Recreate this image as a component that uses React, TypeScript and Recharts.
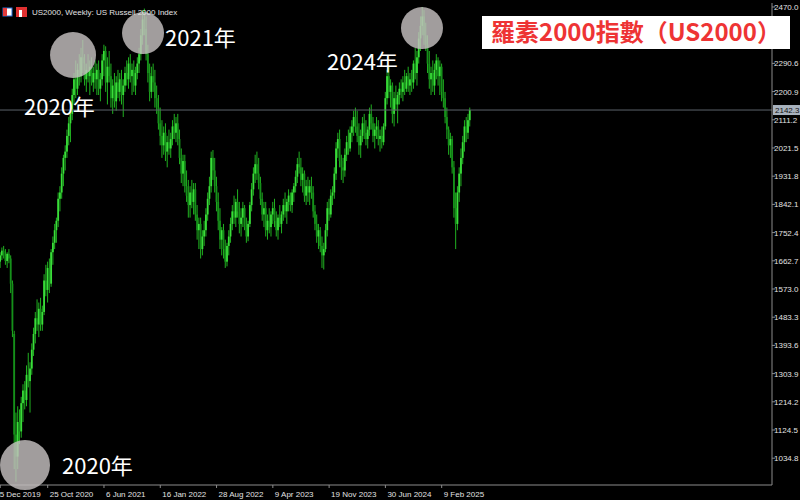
import React from 'react';
import { ComposedChart, Bar, XAxis, YAxis, ReferenceLine, ReferenceDot } from 'recharts';

const OPEN = [
  1660,1680,1695,1678,1662,1685,1670,1590,1430,1110,
  1040,1150,1120,1210,1250,1220,1300,1280,1320,1380,
  1430,1480,1460,1510,1460,1500,1600,1570,1640,1590,
  1690,1720,1760,1790,1860,1880,1940,1990,2010,2060,
  2100,2130,2190,2240,2210,2270,2250,2310,2290,2240,
  2270,2250,2280,2230,2260,2240,2270,2210,2240,2300,
  2330,2230,2280,2250,2180,2220,2170,2230,2200,2240,
  2190,2220,2260,2240,2290,2250,2270,2220,2260,2290,
  2320,2380,2430,2400,2320,2260,2200,2250,2230,2180,
  2150,2100,2060,2030,2070,2010,2040,2020,2050,2090,
  2070,2100,2050,1990,1940,1980,1900,1870,1840,1880,
  1850,1890,1810,1760,1780,1700,1740,1760,1810,1860,
  1900,1990,1950,1900,1850,1790,1730,1760,1700,1660,
  1710,1740,1780,1820,1800,1850,1820,1780,1800,1830,
  1770,1740,1780,1840,1890,1940,1970,1940,1910,1860,
  1810,1830,1760,1790,1770,1810,1830,1790,1760,1800,
  1780,1810,1840,1820,1850,1870,1840,1880,1900,1930,
  1970,1960,1920,1940,1870,1900,1880,1900,1880,1820,
  1780,1740,1760,1710,1680,1700,1760,1830,1810,1870,
  1880,1940,2020,2050,1980,1960,1950,2000,2040,2020,
  2070,2090,2120,2090,2060,2030,2060,2100,2070,2050,
  2080,2130,2100,2060,2080,2090,2050,2060,2040,2090,
  2180,2250,2200,2220,2130,2180,2160,2190,2210,2200,
  2230,2210,2250,2220,2240,2230,2290,2260,2310,2370,
  2410,2440,2380,2350,2290,2240,2260,2220,2270,2300,
  2250,2280,2200,2180,2120,2080,2030,2050,1960,1830,
  1780,1880,1940,1990,2040,2090,2070,2110,
];
const HIGH = [
  1690,1705,1710,1700,1690,1700,1680,1600,1440,1180,
  1200,1190,1230,1270,1280,1330,1370,1340,1400,1450,
  1500,1540,1530,1545,1520,1620,1650,1660,1670,1700,
  1740,1780,1800,1880,1900,1960,2000,2030,2080,2120,
  2150,2210,2260,2300,2290,2320,2340,2365,2320,2290,
  2320,2300,2310,2280,2300,2290,2300,2260,2320,2350,
  2345,2310,2330,2290,2240,2260,2250,2270,2260,2270,
  2240,2280,2300,2310,2320,2290,2300,2280,2310,2340,
  2400,2460,2465,2440,2350,2290,2280,2290,2270,2220,
  2190,2150,2110,2090,2100,2060,2080,2070,2110,2130,
  2120,2130,2080,2020,2000,2000,1950,1920,1900,1920,
  1910,1910,1840,1800,1800,1760,1790,1830,1880,1930,
  2010,2015,1990,1930,1880,1830,1770,1780,1730,1720,
  1760,1800,1840,1870,1860,1890,1850,1830,1850,1840,
  1800,1790,1850,1910,1960,2000,2010,1990,1930,1880,
  1850,1850,1810,1830,1820,1850,1860,1820,1810,1840,
  1820,1860,1880,1860,1890,1880,1890,1910,1950,1990,
  2010,1990,1960,1950,1920,1930,1920,1930,1900,1840,
  1810,1780,1770,1740,1720,1780,1850,1860,1890,1900,
  1960,2040,2070,2080,2000,1990,2020,2060,2080,2090,
  2110,2140,2150,2140,2100,2080,2120,2130,2110,2090,
  2150,2160,2120,2100,2120,2110,2080,2090,2100,2200,
  2270,2280,2240,2230,2200,2220,2200,2230,2240,2250,
  2270,2260,2280,2260,2270,2300,2340,2330,2390,2440,
  2470,2460,2420,2380,2330,2280,2300,2290,2320,2310,
  2300,2290,2240,2200,2150,2090,2070,2060,1980,1880,
  1900,1960,2020,2060,2110,2120,2130,2150,
];
const LOW = [
  1640,1665,1670,1650,1640,1655,1560,1420,1000,960,
  1000,1080,1100,1150,1190,1200,1260,1180,1300,1360,
  1400,1440,1420,1440,1440,1490,1550,1530,1560,1580,
  1650,1700,1720,1770,1820,1860,1900,1950,1990,2030,
  2040,2110,2160,2180,2190,2220,2230,2260,2220,2200,
  2230,2190,2220,2200,2210,2190,2190,2170,2220,2250,
  2200,2160,2230,2150,2130,2150,2140,2180,2170,2160,
  2120,2200,2220,2210,2230,2190,2200,2190,2240,2260,
  2300,2350,2380,2300,2230,2170,2180,2200,2150,2130,
  2080,2030,1990,2000,1980,1960,2000,1990,2030,2050,
  2040,2030,1970,1910,1900,1880,1850,1800,1800,1830,
  1810,1790,1730,1700,1670,1680,1710,1740,1790,1840,
  1880,1920,1880,1820,1760,1700,1680,1670,1640,1645,
  1680,1720,1760,1780,1770,1800,1750,1740,1770,1760,
  1720,1725,1770,1820,1870,1910,1920,1890,1840,1790,
  1770,1740,1730,1750,1740,1780,1770,1740,1730,1770,
  1750,1790,1800,1780,1820,1820,1815,1850,1880,1910,
  1940,1900,1880,1850,1840,1850,1840,1860,1800,1760,
  1720,1700,1690,1640,1635,1690,1740,1790,1800,1840,
  1860,1920,1990,1960,1920,1910,1930,1980,2000,2010,
  2040,2060,2070,2040,2000,1990,2040,2050,2030,2020,
  2060,2080,2040,2020,2050,2030,2010,2020,2030,2080,
  2160,2180,2150,2100,2090,2140,2100,2160,2180,2170,
  2190,2200,2200,2190,2200,2210,2240,2220,2290,2330,
  2380,2350,2330,2260,2210,2190,2200,2190,2240,2220,
  2190,2170,2150,2100,2050,2000,1990,1940,1800,1700,
  1760,1850,1900,1970,2010,2040,2050,2090,
];
const CLOSE = [
  1680,1695,1678,1662,1685,1670,1590,1440,1110,1040,
  1150,1120,1210,1250,1220,1300,1280,1320,1380,1430,
  1480,1460,1510,1460,1500,1600,1570,1640,1590,1690,
  1720,1760,1790,1860,1880,1940,1990,2010,2060,2100,
  2130,2190,2240,2210,2270,2250,2310,2290,2240,2270,
  2250,2280,2230,2260,2240,2270,2210,2240,2300,2330,
  2230,2280,2250,2180,2220,2170,2230,2200,2240,2190,
  2220,2260,2240,2290,2250,2270,2220,2260,2290,2320,
  2380,2430,2400,2320,2260,2200,2250,2230,2180,2150,
  2100,2060,2030,2070,2010,2040,2020,2050,2090,2070,
  2100,2050,1990,1940,1980,1900,1870,1840,1880,1850,
  1890,1810,1760,1780,1700,1740,1760,1810,1860,1900,
  1990,1950,1900,1850,1790,1730,1760,1700,1660,1710,
  1740,1780,1820,1800,1850,1820,1780,1800,1830,1770,
  1740,1780,1840,1890,1940,1970,1940,1910,1860,1810,
  1830,1760,1790,1770,1810,1830,1790,1760,1800,1780,
  1810,1840,1820,1850,1870,1840,1880,1900,1930,1970,
  1960,1920,1940,1870,1900,1880,1900,1880,1820,1780,
  1740,1760,1710,1680,1700,1760,1830,1810,1870,1880,
  1940,2020,2050,1980,1960,1950,2000,2040,2020,2070,
  2090,2120,2090,2060,2030,2060,2100,2070,2050,2080,
  2130,2100,2060,2080,2090,2050,2060,2040,2090,2180,
  2250,2200,2220,2130,2180,2160,2190,2210,2200,2230,
  2210,2250,2220,2240,2230,2290,2260,2310,2370,2410,
  2440,2380,2350,2290,2240,2260,2220,2270,2300,2250,
  2280,2200,2180,2120,2080,2030,2050,1960,1830,1780,
  1880,1940,1990,2040,2090,2070,2110,2142.3,
];

const X_TICK_INDEX = [0, 27, 59, 91, 123, 155, 187, 219, 251];
const X_TICK_LABELS = ['15 Dec 2019', '25 Oct 2020', '6 Jun 2021', '16 Jan 2022', '28 Aug 2022', '9 Apr 2023', '19 Nov 2023', '30 Jun 2024', '9 Feb 2025'];
const Y_TICKS = [1034.8, 1124.5, 1214.2, 1303.9, 1393.6, 1483.3, 1573.0, 1662.7, 1752.4, 1842.1, 1931.8, 2021.5, 2111.2, 2200.9, 2290.6, 2470.0];
const LAST_PRICE = 2142.3;

// highlighted points: bar index, price level, radius
const HIGHLIGHT_INDEX = [41.4, 81.2, 239.8, 14.1];
const HIGHLIGHT_PRICE = [2317, 2387, 2403, 1013];
const HIGHLIGHT_R = [23, 21, 21, 25];

const data = OPEN.map((o, i) => ({ i, o, h: HIGH[i], l: LOW[i], c: CLOSE[i], range: [LOW[i], HIGH[i]] }));

const UP = '#3ade3a';
const DOWN = '#15901a';
const WICK = '#20b020';
const AXIS = '#8c8c8c';
const TEXT = '#e2e2e2';
const FONT = '"Liberation Sans", Arial, sans-serif';
const CJK = '"Noto Sans CJK TC", "Noto Sans CJK SC", sans-serif';

const Candle = (props: any) => {
  const { x, y, width, height, payload } = props;
  if (!payload || x == null) return null;
  const top = Math.min(y, y + height);
  const bot = Math.max(y, y + height);
  const { o, h, l, c } = payload;
  const span = h - l || 1;
  const py = (v: number) => top + ((h - v) / span) * (bot - top);
  const cx = x + width / 2;
  const bt = py(Math.max(o, c));
  const bb = py(Math.min(o, c));
  return (
    <g>
      <line x1={cx} x2={cx} y1={top} y2={bot} stroke={WICK} strokeWidth={1} />
      <rect x={cx - 0.9} y={bt} width={1.8} height={Math.max(bb - bt, 1)} fill={c >= o ? UP : DOWN} />
    </g>
  );
};

const XTick = (props: any) => {
  const { x, y, payload } = props;
  const k = X_TICK_INDEX.indexOf(payload.value);
  const label = k >= 0 ? X_TICK_LABELS[k] : '';
  return (
    <text x={k === 0 ? x - 5 : x + 2} y={y + 7} fill={TEXT} fontSize={8} fontFamily={FONT} textAnchor="start">
      {label}
    </text>
  );
};

const YTick = (props: any) => {
  const { x, y, payload } = props;
  return (
    <text x={x - 3} y={y + 3} fill={TEXT} fontSize={8} fontFamily={FONT} textAnchor="start">
      {Number(payload.value).toFixed(1)}
    </text>
  );
};

const PriceTag = (props: any) => {
  const vb = props.viewBox || {};
  const xr = (vb.x || 0) + (vb.width || 0);
  const yy = vb.y || 0;
  return (
    <g>
      <rect x={xr + 1} y={yy - 5} width={30} height={10} fill="#a8b2bd" />
      <text x={xr + 3} y={yy + 3} fill="#111" fontSize={8} fontFamily={FONT}>{LAST_PRICE.toFixed(1)}</text>
    </g>
  );
};

export default function App() {
  return (
    <div style={{ position: 'absolute', left: 0, top: 0, width: 800, height: 500, background: '#000', overflow: 'hidden' }}>
      <ComposedChart width={800} height={500} data={data} margin={{ top: 3, right: 0, bottom: 0, left: 0 }}>
        <XAxis
          dataKey="i"
          type="number"
          domain={[-0.12, 438.8]}
          allowDataOverflow
          ticks={X_TICK_INDEX}
          tick={<XTick />}
          tickSize={3}
          height={15}
          stroke={AXIS}
          interval={0}
        />
        <YAxis
          orientation="right"
          type="number"
          domain={[949.6, 2482.7]}
          allowDataOverflow
          ticks={Y_TICKS}
          tick={<YTick />}
          tickSize={3}
          width={28}
          stroke={AXIS}
          interval={0}
        />
        <ReferenceLine y={LAST_PRICE} stroke="#5c636b" strokeWidth={1} label={<PriceTag />} ifOverflow="visible" />
        <Bar dataKey="range" barSize={2} shape={<Candle />} isAnimationActive={false} />
        {HIGHLIGHT_INDEX.map((xi, k) => (
          <ReferenceDot key={k} x={xi} y={HIGHLIGHT_PRICE[k]} r={HIGHLIGHT_R[k]} fill="#c4c0c0" fillOpacity={0.82} stroke="none" ifOverflow="visible" />
        ))}
      </ComposedChart>
      <svg width={800} height={500} style={{ position: 'absolute', left: 0, top: 0, pointerEvents: 'none' }}>
        <rect x={3} y={8} width={9} height={8} fill="#fff" stroke="#2a6fd6" strokeWidth={1} />
        <rect x={3} y={8} width={4} height={8} fill="#e23b3b" />
        <rect x={16} y={7} width={11} height={10} fill="#e03030" />
        <rect x={19} y={10} width={3} height={7} fill="#fff" />
        <text x={32} y={15} fill={TEXT} fontSize={8} fontFamily={FONT}>US2000, Weekly:  US Russell 2000 Index</text>
        <rect x={482} y={16} width={308} height={33} fill="#fff" />
        <text x={491} y={41} fill="#ee3434" fontSize={24} fontWeight="bold" fontFamily={CJK}>羅素2000指數（US2000）</text>
        <text x={24} y={115} fill="#fff" fontSize={22} fontFamily={CJK}>2020年</text>
        <text x={165} y={46} fill="#fff" fontSize={22} fontFamily={CJK}>2021年</text>
        <text x={327} y={70} fill="#fff" fontSize={22} fontFamily={CJK}>2024年</text>
        <text x={62} y={474} fill="#fff" fontSize={22} fontFamily={CJK}>2020年</text>
      </svg>
    </div>
  );
}
